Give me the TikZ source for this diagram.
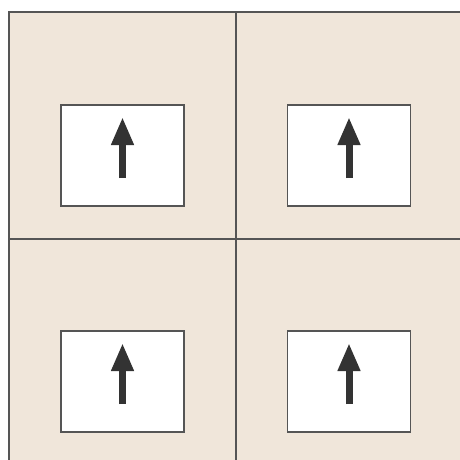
\documentclass[tikz,border=0pt]{standalone}
\usetikzlibrary{arrows.meta,calc}
\definecolor{arena}{RGB}{240,230,218}
\definecolor{grisl}{RGB}{85,85,85}
\definecolor{grisf}{RGB}{51,51,51}
\tikzset{
  celda/.style={draw=grisl, line width=1.2pt, fill=white, minimum width=123pt, minimum height=101pt, inner sep=0pt, outer sep=0pt},
  muro/.style={draw=grisl, line width=1.5pt},
  flecha/.style={-{Triangle[length=28pt,width=21pt]}, line width=7pt, grisf},
}
\begin{document}
\begin{tikzpicture}[x=1pt,y=-1pt]
  \useasboundingbox (0,0) rectangle (460,460);
  \fill[arena] (9,12) rectangle (460,460);
  \draw[muro] (9,460) -- (9,12) -- (460,12);
  \draw[muro] (236,12) -- (236,460);
  \draw[muro] (9,239) -- (460,239);
  \foreach \nom/\x/\y in {nw/122.5/155.5, ne/349/155.5, sw/122.5/381.5, se/349/381.5}{
    \node[celda] (caja-\nom) at (\x,\y) {};
    \draw[flecha] ($(caja-\nom.center)+(0,22.5)$) -- ($(caja-\nom.center)+(0,-38.5)$);
  }
\end{tikzpicture}
\end{document}
